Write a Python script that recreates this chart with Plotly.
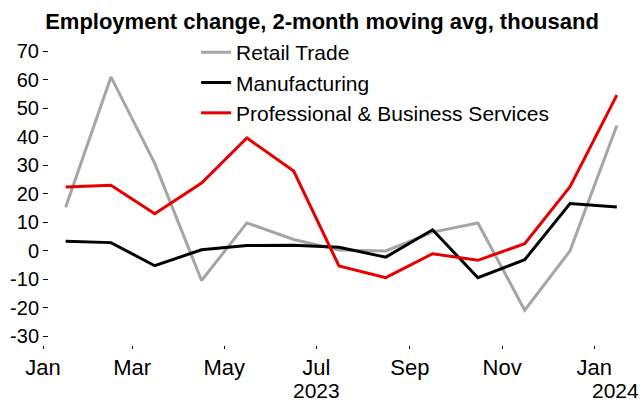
import plotly.graph_objects as go

months = ["2023-01-16", "2023-02-15", "2023-03-16", "2023-04-16", "2023-05-16",
          "2023-06-16", "2023-07-16", "2023-08-16", "2023-09-16", "2023-10-16",
          "2023-11-16", "2023-12-16", "2024-01-16"]
retail = [15.3, 61, 30.7, -10.4, 9.8, 4.0, 0.3, 0.0, 6.6, 9.8, -20.8, 0.0, 44]
manufacturing = [3.4, 2.9, -5.2, 0.4, 1.9, 2.0, 1.3, -2.2, 7.4, -9.4, -3.1, 16.6, 15.4]
prof_business = [22.4, 23.0, 13.0, 23.8, 39.6, 28.0, -5.3, -9.4, -1.0, -3.3, 2.5, 22.5, 54.6]

series_names = ["Retail Trade", "Manufacturing", "Professional & Business Services"]
series_colors = ["#A5A5A5", "#000000", "#E60000"]

tick_vals = ["2023-01-01", "2023-03-01", "2023-05-01", "2023-07-01",
             "2023-09-01", "2023-11-01", "2024-01-01"]
tick_text = ["Jan", "Mar", "May", "Jul", "Sep", "Nov", "Jan"]
y_ticks = [-30, -20, -10, 0, 10, 20, 30, 40, 50, 60, 70]
y_tick_text = ["-30", "-20", "-10", "0", "10", "20", "30", "40", "50", "60", "70"]
year_labels = ["2023", "2024"]

title = "Employment change, 2-month moving avg, thousand"
FONT = "Arial, Liberation Sans, sans-serif"

fig = go.Figure()
for name, vals, col in zip(series_names, [retail, manufacturing, prof_business], series_colors):
    fig.add_trace(go.Scatter(x=months, y=vals, name=name, mode="lines",
                             line=dict(color=col, width=3)))

fig.add_annotation(x="2023-07-01", y=0, xref="x", yref="paper", yshift=-32,
                   text=year_labels[0], showarrow=False, xanchor="center", yanchor="top",
                   font=dict(size=21, color="#000", family=FONT))
fig.add_annotation(x=1, y=0, xref="paper", yref="paper", yshift=-32,
                   text=year_labels[1], showarrow=False, xanchor="right", yanchor="top",
                   font=dict(size=21, color="#000", family=FONT))

fig.update_layout(
    width=644, height=403,
    margin=dict(l=43, r=3, t=37, b=58),
    paper_bgcolor="white", plot_bgcolor="white",
    font=dict(family=FONT, size=20, color="#000"),
    title=dict(text="<b>" + title + "</b>", x=0.5, xanchor="center",
               y=1 - 21 / 403, yanchor="middle", font=dict(size=22, color="#000")),
    showlegend=True,
    legend=dict(x=0.256, y=1.016, xanchor="left", yanchor="top",
                bgcolor="rgba(0,0,0,0)", font=dict(size=21),
                itemwidth=30, tracegroupgap=0),
    xaxis=dict(type="date", range=["2023-01-01", "2024-02-01"],
               tickvals=tick_vals, ticktext=tick_text,
               ticks="outside", ticklen=3, tickcolor="#000", tickwidth=1,
               showgrid=False, zeroline=False, showline=False,
               tickfont=dict(size=22)),
    yaxis=dict(range=[-33, 75], tickvals=y_ticks, ticktext=y_tick_text,
               ticks="inside", ticklen=5, tickcolor="#000", tickwidth=1,
               showgrid=False, zeroline=False, showline=False,
               ticklabelstandoff=3, tickfont=dict(size=20)),
)

fig.write_html("out.html")
